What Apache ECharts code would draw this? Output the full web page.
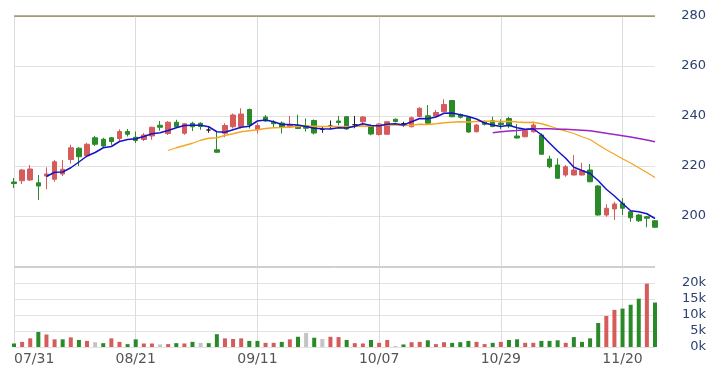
<!DOCTYPE html>
<html>
<head>
<meta charset="utf-8">
<script src="https://cdn.jsdelivr.net/npm/echarts@6/dist/echarts.min.js"></script>
<style>
html,body{margin:0;padding:0;background:#fff;}
#chart{width:718px;height:370px;}
</style>
</head>
<body>
<div id="chart"></div>
<script>
// ---- data ----
const dates = ['07/31',
 '08/03','08/04','08/05','08/06','08/07',
 '08/10','08/11','08/12','08/13','08/14',
 '08/17','08/18','08/19','08/20','08/21',
 '08/24','08/25','08/26','08/27','08/28',
 '08/31','09/01','09/02','09/03','09/04',
 '09/07','09/08','09/09','09/10','09/11',
 '09/14','09/15','09/16','09/17','09/18',
 '09/24','09/25',
 '09/28','09/29','09/30','10/01','10/02',
 '10/05','10/06','10/07',
 '10/08','10/09',
 '10/13','10/14','10/15','10/16',
 '10/19','10/20','10/21','10/22','10/23',
 '10/26','10/27','10/28','10/29',
 '10/30',
 '11/02','11/04','11/05','11/06',
 '11/09','11/10','11/11','11/12','11/13',
 '11/16','11/17','11/18','11/19','11/20',
 '11/24','11/25','11/26','11/27'];

const opens = [213.6,214.1,214.4,213.3,216.0,214.7,216.8,222.6,227.1,224.1,
 231.3,230.7,231.3,231.0,233.8,231.5,230.6,232.0,236.3,233.0,
 237.5,233.1,237.1,237.1,234.4,226.5,233.1,235.7,235.7,242.6,
 234.5,239.6,237.5,237.2,235.6,236.2,236.1,238.2,234.6,236.0,
 238.0,239.7,236.5,237.7,236.2,232.6,232.7,238.7,237.0,235.7,
 239.8,240.1,240.0,241.7,246.2,240.6,239.4,233.7,237.7,238.1,
 237.2,239.0,232.0,231.7,233.7,232.4,222.8,220.4,216.4,216.4,
 216.4,218.4,212.0,200.4,202.8,205.1,201.7,200.4,199.7,198.1];

const closes = [213.0,218.4,218.8,212.0,216.8,221.7,218.7,227.3,223.7,228.7,
 228.7,228.0,229.8,233.8,232.7,230.2,232.4,235.5,235.5,237.5,
 235.7,236.9,235.7,235.8,234.4,225.5,236.2,240.4,240.8,236.4,
 236.2,238.0,236.9,235.5,236.6,235.0,235.1,233.2,234.6,236.0,
 237.4,234.8,236.5,239.6,232.8,236.8,237.7,237.8,237.0,239.3,
 243.1,237.1,241.4,244.6,239.7,239.5,233.6,236.4,236.7,235.8,
 236.6,236.0,231.2,234.1,236.4,224.7,219.7,215.1,219.7,218.4,
 218.1,213.7,200.4,203.1,204.8,203.1,199.3,198.1,199.1,195.5];

const highs = [215.2,218.8,220.4,216.4,219.5,222.4,222.4,228.5,227.6,229.3,
 232.0,231.3,231.6,234.7,234.8,233.8,233.2,235.7,238.0,238.0,
 238.5,237.2,237.7,237.5,235.5,234.0,237.1,241.0,243.1,243.0,
 237.2,240.4,238.3,237.8,240.0,240.5,239.0,238.6,235.8,238.2,
 240.0,240.0,240.0,240.0,236.6,237.2,238.0,239.0,237.7,239.8,
 243.5,244.4,242.4,246.7,246.4,241.0,239.6,236.8,238.2,239.7,
 238.7,239.7,236.8,234.4,237.7,233.0,224.1,223.1,220.4,224.4,
 221.3,220.8,212.4,204.7,205.7,207.1,202.4,200.8,200.0,198.4];

const lows = [211.2,212.8,214.0,206.4,210.7,213.7,216.0,221.0,220.0,223.5,
 228.0,227.2,228.5,230.0,231.8,229.2,230.0,230.5,234.1,232.4,
 235.2,232.5,234.0,234.5,233.3,225.3,231.5,235.0,235.0,235.0,
 233.0,237.7,235.5,233.0,235.2,234.8,233.8,232.6,233.3,234.7,
 236.3,234.6,235.1,236.4,232.3,232.2,232.4,237.4,235.7,235.5,
 239.5,237.0,239.6,241.5,239.5,239.0,233.3,233.4,236.2,235.5,
 234.7,235.1,231.0,231.5,233.4,224.5,219.1,214.8,215.7,216.2,
 216.2,213.5,200.2,199.7,198.4,200.4,197.7,197.6,195.5,195.3];

const volumes = [1100,1600,2700,4700,3900,2400,2400,3000,2200,1900,
 1500,1200,2700,1600,900,2400,1100,1100,800,900,
 1200,1100,1600,1300,1200,4000,2700,2500,2700,1900,
 1900,1300,1300,1600,2400,3200,4400,2900,2500,3200,
 3100,2200,1200,1100,2200,1300,2200,300,800,1500,
 1600,2100,900,1500,1300,1500,1900,1600,900,1300,
 1600,2200,2400,1300,1300,1900,1900,2100,1300,3100,
 1600,2700,7500,9700,11600,12000,13200,15100,19800,13900];

// 1 = close above previous close, -1 = below, 0 = unchanged
const volumeTrend = [-1,1,1,-1,1,1,-1,1,-1,1,
 0,-1,1,1,-1,-1,1,1,0,1,
 -1,1,-1,0,-1,-1,1,1,1,-1,
 -1,1,1,-1,1,-1,0,-1,0,1,
 1,-1,1,1,-1,1,1,0,-1,1,
 1,-1,1,1,-1,-1,-1,1,1,-1,
 1,-1,-1,1,1,-1,-1,-1,1,-1,
 -1,-1,-1,1,1,-1,-1,-1,1,-1];

const ma5 = [null,null,null,null,215.8,217.5,217.6,219.3,221.6,224.0,
 225.4,227.3,227.8,229.8,230.6,230.9,231.8,232.9,233.3,234.2,
 235.3,236.2,236.3,236.3,235.7,233.7,233.5,234.5,235.5,235.9,
 238.0,238.4,237.7,236.6,236.6,236.4,235.8,235.1,234.9,234.8,
 235.3,235.2,235.9,236.9,236.2,236.1,236.7,236.9,236.4,237.7,
 239.0,238.9,239.6,241.1,241.2,240.5,239.8,238.8,237.2,236.4,
 235.8,236.3,235.3,234.7,234.9,232.5,229.2,226.0,223.1,219.5,
 218.2,217.0,214.1,210.7,208.0,205.0,202.1,201.7,200.9,199.0];

const ma20 = [null,null,null,null,null,null,null,null,null,null,
 null,null,null,null,null,null,null,null,null,226.2,
 227.3,228.2,229.1,230.3,231.1,231.3,232.2,232.9,233.7,234.1,
 234.5,235.0,235.3,235.4,235.6,235.8,236.0,235.9,235.8,235.8,
 235.8,235.7,235.8,236.0,235.9,236.4,236.5,236.4,236.2,236.3,
 236.7,236.6,236.9,237.3,237.5,237.7,237.6,237.8,237.9,237.9,
 237.8,237.9,237.6,237.4,237.5,236.9,236.0,234.9,234.0,233.0,
 231.7,230.6,228.5,226.5,224.7,222.9,221.2,219.3,217.4,215.4];

const ma60 = [null,null,null,null,null,null,null,null,null,null,
 null,null,null,null,null,null,null,null,null,null,
 null,null,null,null,null,null,null,null,null,null,
 null,null,null,null,null,null,null,null,null,null,
 null,null,null,null,null,null,null,null,null,null,
 null,null,null,null,null,null,null,null,null,233.3,
 233.7,234.0,234.2,234.5,234.9,234.9,234.9,234.7,234.7,234.5,
 234.3,234.1,233.6,233.1,232.6,232.1,231.6,231.0,230.4,229.7];

const labelEvery = 15;
const priceTop = 280;

// ---- chart ----
const UP = '#d65c5c', DOWN = '#2a8a2a', FLAT = '#c4c4c4';
const FONT = 'DejaVu Sans';

const candleData = opens.map((o, i) => [o, closes[i], lows[i], highs[i]]);
const volData = volumes.map((v, i) => ({
  value: v,
  itemStyle: { color: volumeTrend[i] > 0 ? UP : (volumeTrend[i] < 0 ? DOWN : FLAT) }
}));

const chart = echarts.init(document.getElementById('chart'), null, { renderer: 'canvas' });
const vSplit = { show: true, interval: (i) => i % labelEvery === 0, lineStyle: { color: '#dcdcdc', width: 1 } };

chart.setOption({
  animation: false,
  backgroundColor: '#ffffff',
  grid: [
    { left: 14, right: 63, top: 16, height: 250 },
    { left: 14, right: 63, top: 267, height: 80 }
  ],
  xAxis: [
    { type: 'category', gridIndex: 0, data: dates, boundaryGap: false,
      axisLine: { show: false }, axisTick: { show: false }, axisLabel: { show: false },
      splitLine: vSplit },
    { type: 'category', gridIndex: 1, data: dates, boundaryGap: false,
      axisLine: { show: false }, axisTick: { show: false },
      axisLabel: { show: true, interval: (i) => i % labelEvery === 0, color: '#555555',
        fontFamily: FONT, fontSize: 14, margin: 5, alignMinLabel: 'left' },
      splitLine: vSplit }
  ],
  yAxis: [
    { type: 'value', gridIndex: 0, position: 'right', min: 180, max: 280, interval: 20,
      axisLine: { show: false }, axisTick: { show: false },
      axisLabel: { formatter: (v) => v === 180 ? '' : String(v), color: '#2b4170',
        fontFamily: FONT, fontSize: 13, align: 'right', margin: 51 },
      splitLine: { show: true, lineStyle: { color: ['#cfcfcf', '#e2e2e2', '#e2e2e2', '#e2e2e2', '#e2e2e2', '#a39a70'], width: 1 } } },
    { type: 'value', gridIndex: 1, position: 'right', min: 0, max: 25000, interval: 5000,
      axisLine: { show: false }, axisTick: { show: false },
      axisLabel: { formatter: (v) => v === 25000 ? '' : (v / 1000) + 'k', color: '#2b4170',
        fontFamily: FONT, fontSize: 13, align: 'right', margin: 51 },
      splitLine: { show: true, lineStyle: { color: ['#e2e2e2', '#e2e2e2', '#e2e2e2', '#e2e2e2', '#e2e2e2', '#cfcfcf'], width: 1 } } }
  ],
  series: [
    { type: 'candlestick', xAxisIndex: 0, yAxisIndex: 0, data: candleData, barWidth: 5, clip: false,
      itemStyle: { color: UP, color0: DOWN, borderColor: UP, borderColor0: DOWN, borderColorDoji: '#222222', borderWidth: 1 },
      markLine: { silent: true, symbol: 'none', label: { show: false },
        lineStyle: { color: '#a39a70', width: 1.6, type: 'solid' },
        data: [{ yAxis: priceTop }] } },
    { type: 'line', name: 'MA5', xAxisIndex: 0, yAxisIndex: 0, data: ma5, showSymbol: false, symbol: 'none',
      lineStyle: { color: '#1414c8', width: 1.5 }, z: 5 },
    { type: 'line', name: 'MA20', xAxisIndex: 0, yAxisIndex: 0, data: ma20, showSymbol: false, symbol: 'none',
      lineStyle: { color: '#f5a623', width: 1.3 }, z: 4 },
    { type: 'line', name: 'MA60', xAxisIndex: 0, yAxisIndex: 0, data: ma60, showSymbol: false, symbol: 'none',
      lineStyle: { color: '#9b26c4', width: 1.3 }, z: 4 },
    { type: 'bar', xAxisIndex: 1, yAxisIndex: 1, data: volData, barWidth: 4, clip: false }
  ]
});
</script>
</body>
</html>
